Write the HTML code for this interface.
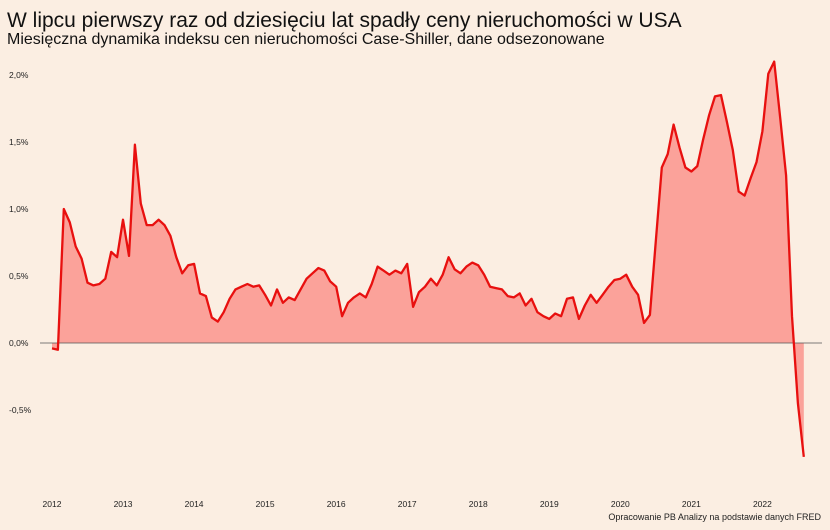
<!DOCTYPE html>
<html><head><meta charset="utf-8"><style>
html,body{margin:0;padding:0;background:#fbeee2;}
svg{display:block;font-family:"Liberation Sans",sans-serif;}
</style></head><body>
<svg id="chart" width="830" height="530">
<rect width="830" height="530" fill="#fbeee2"/>
<text x="7" y="27" font-size="21" fill="#111">W lipcu pierwszy raz od dziesięciu lat spadły ceny nieruchomości w USA</text>
<text x="7" y="44" font-size="16" fill="#111">Miesięczna dynamika indeksu cen nieruchomości Case-Shiller, dane odsezonowane</text>
<g id="yaxis"></g>
<g id="xaxis"></g>
<path id="area" fill="#fba29a"/>
<line id="zero" x1="40" x2="822" stroke="#555" stroke-width="0.8"/>
<path id="line" fill="none" stroke="#e8100f" stroke-width="2.3" stroke-linejoin="round"/>
<text x="821" y="520" font-size="9" text-anchor="end" fill="#222">Opracowanie PB Analizy na podstawie danych FRED</text>
</svg>
<script>
const values = [
-0.04,-0.05,1.0,0.9,0.72,0.63,0.45,0.43,0.44,0.48,0.68,0.64,
0.92,0.65,1.48,1.04,0.88,0.88,0.92,0.88,0.8,0.64,0.52,0.58,
0.59,0.37,0.35,0.19,0.16,0.23,0.33,0.40,0.42,0.44,0.42,0.43,
0.36,0.28,0.40,0.30,0.34,0.32,0.40,0.48,0.52,0.56,0.54,0.46,
0.42,0.20,0.30,0.34,0.37,0.34,0.44,0.57,0.54,0.51,0.54,0.52,
0.59,0.27,0.38,0.42,0.48,0.43,0.51,0.64,0.55,0.52,0.57,0.60,
0.58,0.51,0.42,0.41,0.40,0.35,0.34,0.37,0.28,0.33,0.23,0.20,
0.18,0.22,0.20,0.33,0.34,0.18,0.28,0.36,0.30,0.36,0.42,0.47,
0.48,0.51,0.42,0.36,0.15,0.21,0.76,1.31,1.41,1.63,1.46,1.31,
1.28,1.32,1.52,1.70,1.84,1.85,1.65,1.44,1.13,1.10,1.23,1.35,
1.58,2.01,2.10,1.68,1.25,0.20,-0.45,-0.85];
const yTicks = [-0.5,0,0.5,1.0,1.5,2.0];
const yTickLabels = ["-0,5%","0,0%","0,5%","1,0%","1,5%","2,0%"];
const xYears = [2012,2013,2014,2015,2016,2017,2018,2019,2020,2021,2022];

const X = m => 52 + m * 5.92;        // month index -> px
const Y = v => 343 - v * 134;        // percent -> px
const ns = "http://www.w3.org/2000/svg";
const yax = document.getElementById('yaxis');
yTicks.forEach((t,i)=>{
  const tx = document.createElementNS(ns,'text');
  
  
  tx.setAttribute('x',9); tx.setAttribute('y',Y(t)+3);
  tx.setAttribute('font-size','8.5'); tx.setAttribute('fill','#222');
  tx.textContent = yTickLabels[i]; yax.appendChild(tx);
});
const xax = document.getElementById('xaxis');
xYears.forEach(yr=>{
  const tx = document.createElementNS(ns,'text');
  
  
  tx.setAttribute('x',X((yr-2012)*12)); tx.setAttribute('y',507);
  tx.setAttribute('font-size','8.5'); tx.setAttribute('text-anchor','middle'); tx.setAttribute('fill','#222');
  tx.textContent = yr; xax.appendChild(tx);
});
document.getElementById('zero').setAttribute('y1',Y(0));
document.getElementById('zero').setAttribute('y2',Y(0));
let d = values.map((v,i)=>(i?'L':'M')+X(i).toFixed(1)+','+Y(v).toFixed(1)).join(' ');
document.getElementById('line').setAttribute('d',d);
document.getElementById('area').setAttribute('d',
  'M'+X(0)+','+Y(0)+' '+d.replace(/^M/,'L')+' L'+X(values.length-1).toFixed(1)+','+Y(0)+' Z');
</script>
</body></html>
